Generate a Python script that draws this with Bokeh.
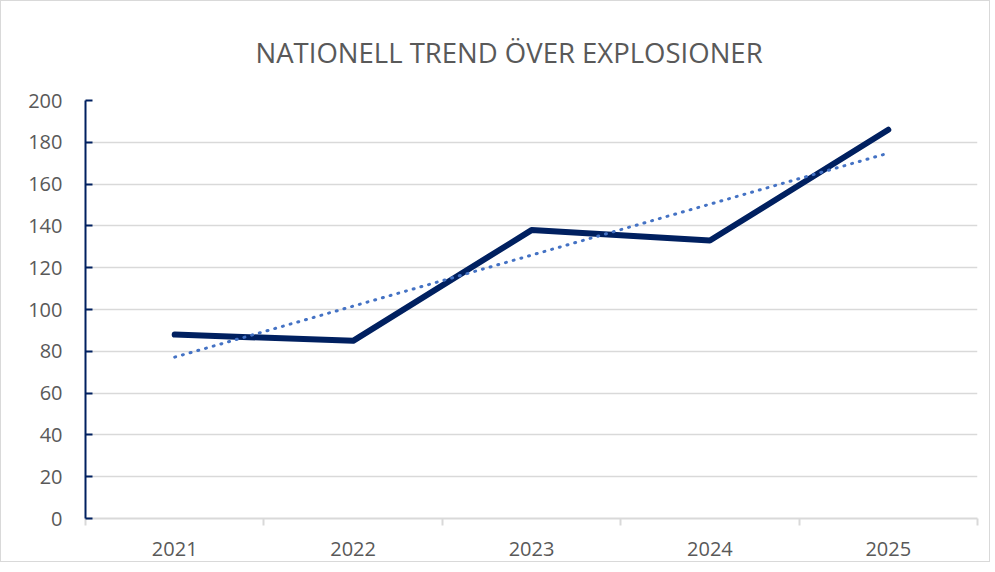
from bokeh.plotting import figure
from bokeh.models import FixedTicker, Range1d
from bokeh.embed import file_html
from bokeh.resources import INLINE

years = [2021, 2022, 2023, 2024, 2025]
explosions = [88, 85, 138, 133, 186]
trend_years = [2021, 2025]
trend_values = [77.2, 174.8]
y_ticks = [0, 20, 40, 60, 80, 100, 120, 140, 160, 180, 200]
title_text = "NATIONELL TREND ÖVER EXPLOSIONER"

NAVY = "#002060"
TREND = "#4472C4"
GRID = "#d9d9d9"
TEXT = "#595959"

p = figure(width=990, height=562, output_backend="svg", toolbar_location=None,
           x_range=Range1d(years[0] - 0.5, years[-1] + 0.5), y_range=Range1d(0, 200),
           min_border_left=84, min_border_right=14, min_border_top=99, min_border_bottom=45,
           title=title_text)
p.styles = {"border": "1px solid #d9d9d9", "box-sizing": "border-box"}
p.outline_line_color = None
p.background_fill_color = "white"
p.border_fill_color = "white"

p.title.text_font = "Open Sans"
p.title.text_font_size = "27.5px"
p.title.text_font_style = "normal"
p.title.text_color = TEXT
p.title.align = "left"
p.title.standoff = 59
p.title.offset = 170

# y axis
ya = p.yaxis[0]
ya.ticker = FixedTicker(ticks=y_ticks)
ya.axis_line_color = NAVY
ya.axis_line_width = 2
ya.major_tick_line_color = NAVY
ya.major_tick_line_width = 2
ya.major_tick_in = 7
ya.major_tick_out = 0
ya.minor_tick_line_color = None
ya.major_label_text_font = "Open Sans"
ya.major_label_text_font_size = "20px"
ya.major_label_text_color = TEXT
ya.major_label_standoff = 23

# x axis
xa = p.xaxis[0]
xa.ticker = FixedTicker(ticks=years, minor_ticks=[y - 0.5 for y in years] + [years[-1] + 0.5])
xa.axis_line_color = GRID
xa.axis_line_width = 2
xa.major_tick_line_color = None
xa.major_tick_out = 0
xa.major_tick_in = 0
xa.minor_tick_line_color = GRID
xa.minor_tick_line_width = 2
xa.minor_tick_out = 7
xa.minor_tick_in = 0
xa.major_label_text_font = "Open Sans"
xa.major_label_text_font_size = "20px"
xa.major_label_text_color = TEXT
xa.major_label_standoff = 16
xa.major_label_overrides = {y: str(y) for y in years}

p.xgrid.grid_line_color = None
p.ygrid.grid_line_color = GRID
p.ygrid.grid_line_width = 1.5

p.line(years, explosions, line_color=NAVY, line_width=6, line_cap="round", line_join="round")
p.line(trend_years, trend_values, line_color=TREND, line_width=3, line_cap="round", line_dash="1 7")

open("out.html", "w").write(file_html(p, INLINE))
